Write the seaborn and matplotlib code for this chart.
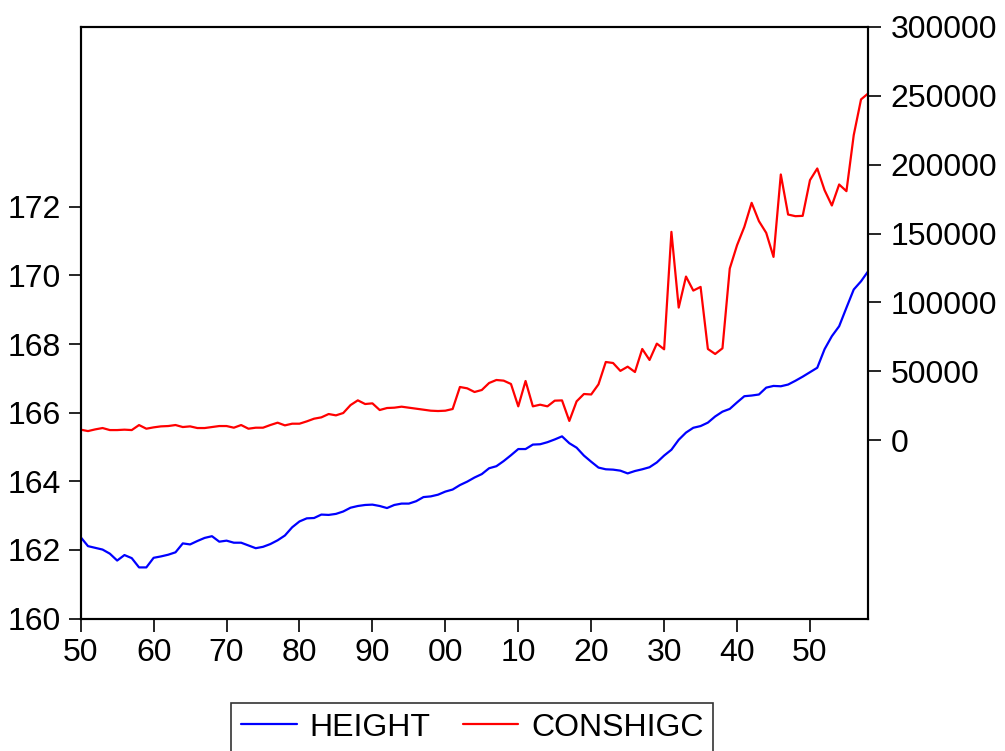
import pandas as pd
import seaborn as sns
import matplotlib.pyplot as plt
from matplotlib.ticker import FuncFormatter

years = list(range(1850, 1959))

height = [162.37, 162.11, 162.06, 162.01, 161.89, 161.69, 161.85, 161.76, 161.49, 161.49,
          161.77, 161.81, 161.86, 161.93, 162.19, 162.16, 162.26, 162.35, 162.40, 162.24,
          162.27, 162.21, 162.21, 162.13, 162.05, 162.09, 162.17, 162.28, 162.42, 162.66,
          162.83, 162.92, 162.93, 163.03, 163.02, 163.05, 163.12, 163.23, 163.28, 163.31,
          163.32, 163.28, 163.22, 163.31, 163.35, 163.35, 163.42, 163.54, 163.56, 163.61,
          163.70, 163.76, 163.89, 163.99, 164.11, 164.21, 164.38, 164.44, 164.59, 164.76,
          164.94, 164.94, 165.07, 165.08, 165.14, 165.22, 165.31, 165.11, 164.98, 164.75,
          164.57, 164.40, 164.35, 164.34, 164.31, 164.23, 164.30, 164.35, 164.41, 164.55,
          164.75, 164.92, 165.21, 165.42, 165.56, 165.61, 165.71, 165.89, 166.03, 166.11,
          166.30, 166.48, 166.50, 166.53, 166.73, 166.78, 166.77, 166.82, 166.93, 167.05,
          167.18, 167.31, 167.85, 168.23, 168.52, 169.06, 169.59, 169.83, 170.13]

conshigc = [7770, 6750, 7990, 8950, 7480, 7480, 7770, 7480, 11110, 8470,
            9440, 10160, 10400, 11130, 9680, 10160, 8950, 8950, 9680, 10400,
            10400, 9200, 11130, 8470, 9200, 9200, 11130, 12830, 10890, 12100,
            12100, 13790, 15730, 16700, 19110, 18150, 19840, 25600, 29040, 26370,
            26860, 22020, 23470, 23710, 24440, 23710, 22990, 22260, 21530, 21290,
            21530, 22750, 38720, 37750, 35090, 36540, 41620, 43800, 43320, 40900,
            24680, 43080, 24680, 25890, 24680, 28800, 29000, 14100, 28310, 33630,
            33300, 40650, 56850, 56120, 50400, 53460, 49590, 66290, 58310, 70180,
            66060, 151230, 96310, 118810, 108640, 111300, 66290, 62660, 66780, 124620,
            141550, 154850, 172280, 159000, 150500, 133080, 192850, 163800, 162600, 162840,
            188730, 197200, 181470, 170350, 185590, 180750, 221400, 247300, 251700]

left_ticks = [160, 162, 164, 166, 168, 170, 172]
right_ticks = [0, 50000, 100000, 150000, 200000, 250000, 300000]
x_ticks = list(range(1850, 1951, 10))

df = pd.DataFrame({'Year': years, 'HEIGHT': height, 'CONSHIGC': conshigc})

sns.set_style("ticks")
plt.rcParams['font.family'] = ['Liberation Sans', 'DejaVu Sans']
plt.rcParams['text.color'] = 'black'

fig = plt.figure(figsize=(10.05, 7.51), dpi=100)
ax = fig.add_axes([0.0803, 0.1764, 0.7837, 0.788])
ax2 = ax.twinx()

sns.lineplot(data=df, x='Year', y='HEIGHT', color='#0000FF', linewidth=1.6, ax=ax, label='HEIGHT', legend=False)
sns.lineplot(data=df, x='Year', y='CONSHIGC', color='#FF0000', linewidth=1.6, ax=ax2, label='CONSHIGC', legend=False)

ax.set_xlim(1850, 1958)
ax.set_ylim(160, 177.25)
ax2.set_ylim(-129200, 300000)

ax.set_xticks(x_ticks)
ax.xaxis.set_major_formatter(FuncFormatter(lambda v, p: f"{int(round(v)) % 100:02d}"))
ax.set_yticks(left_ticks)
ax2.set_yticks(right_ticks)
ax2.yaxis.set_major_formatter(FuncFormatter(lambda v, p: f"{int(v)}"))

for a in (ax, ax2):
    a.set_xlabel('')
    a.set_ylabel('')
    a.tick_params(axis='both', labelsize=23, length=9, width=1.2, color='black',
                  labelcolor='black', direction='out', pad=5)
    for s in a.spines.values():
        s.set_linewidth(1.5)
        s.set_color('black')
ax2.tick_params(axis='y', pad=7)

handles = ax.get_lines()[:1] + ax2.get_lines()[:1]
leg = fig.legend(handles, ['HEIGHT', 'CONSHIGC'], loc='upper center', bbox_to_anchor=(0.470, 0.064),
                 ncol=2, fontsize=23, frameon=True, fancybox=False, handlelength=1.75,
                 handletextpad=0.4, columnspacing=1.0, borderpad=0.3, borderaxespad=0)
leg.get_frame().set_edgecolor('black')
leg.get_frame().set_linewidth(1.2)
for t in leg.get_texts():
    t.set_color('black')

plt.savefig("out.png", dpi=100)
